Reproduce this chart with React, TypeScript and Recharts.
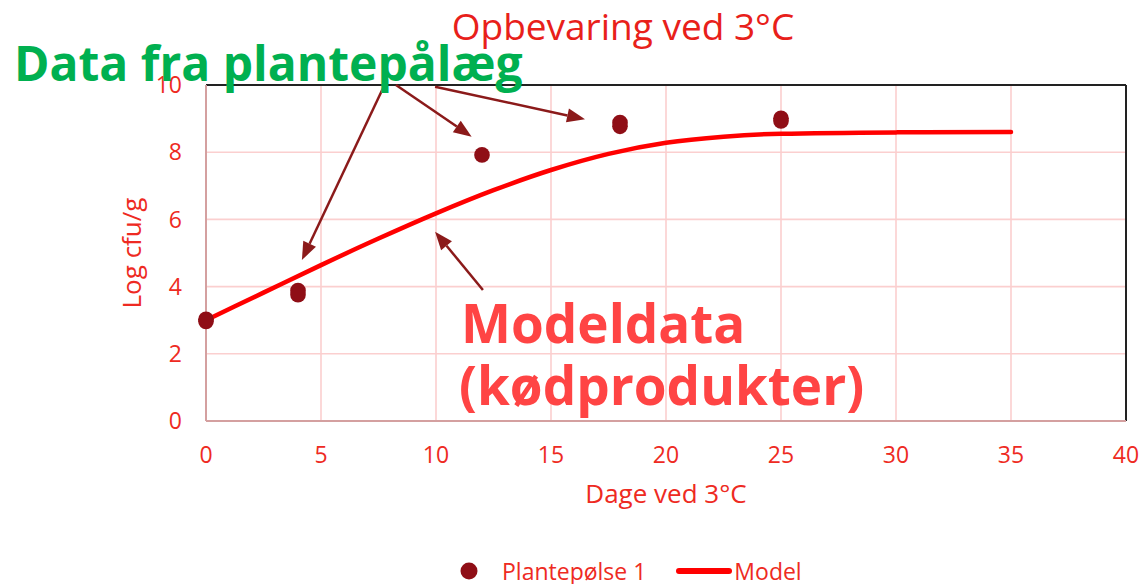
import React from 'react'
import {
  ComposedChart,
  Line,
  Scatter,
  CartesianGrid,
  XAxis,
  YAxis,
  ReferenceLine,
} from 'recharts'

// målte punkter (plantepølse 1)
const sampleDays = [0, 0, 4, 4, 12, 18, 18, 25, 25]
const sampleLog = [3.03, 2.96, 3.88, 3.76, 7.92, 8.88, 8.77, 9.01, 8.93]

// modelkurve (kødprodukter)
const modelDays = [0, 2.5, 5, 7.5, 10, 12.5, 15, 17.5, 20, 22.5, 25, 30, 35]
const modelLog = [3.0, 3.82, 4.64, 5.43, 6.18, 6.87, 7.47, 7.95, 8.28, 8.46, 8.55, 8.59, 8.6]

const xTicks = [0, 5, 10, 15, 20, 25, 30, 35, 40]
const yTicks = [0, 2, 4, 6, 8, 10]

// pile: [fra, til] i data-koordinater
const arrowFrom = [
  [7.7, 9.91],
  [8.26, 10.0],
  [9.96, 9.95],
  [12.04, 3.9],
]
const arrowTo = [
  [4.17, 4.79],
  [11.55, 8.46],
  [16.48, 8.98],
  [9.96, 5.63],
]

const seriesSample = 'Plantepølse 1'
const seriesModel = 'Model'

const W = 1140
const H = 584
const FONT = '"Open Sans", sans-serif'
const RED_TXT = '#ee2a22'
const DOT = '#8f0e16'
const ARROW = '#8b1a1a'

const samples = sampleDays.map((x, i) => ({ x, y: sampleLog[i] }))
const model = modelDays.map((x, i) => ({ x, y: modelLog[i] }))

function Arrow(props: any) {
  const { x1, y1, x2, y2 } = props
  const dx = x2 - x1
  const dy = y2 - y1
  const len = Math.hypot(dx, dy) || 1
  const ux = dx / len
  const uy = dy / len
  const hl = 18
  const hw = 7
  const bx = x2 - ux * hl
  const by = y2 - uy * hl
  return (
    <g>
      <line x1={x1} y1={y1} x2={bx} y2={by} stroke={ARROW} strokeWidth={2.5} />
      <polygon
        points={`${x2},${y2} ${bx - uy * hw},${by + ux * hw} ${bx + uy * hw},${by - ux * hw}`}
        fill={ARROW}
      />
    </g>
  )
}

const Dot = (p: any) => <circle cx={p.cx} cy={p.cy} r={7.8} fill={DOT} />

export default function App() {
  const tickStyle = { fill: RED_TXT, fontSize: 23, fontFamily: FONT }
  return (
    <div style={{ position: 'absolute', left: 0, top: 0, width: W, height: H, background: '#fff' }}>
      <ComposedChart
        width={W}
        height={H}
        margin={{ top: 85, right: 14, bottom: 0, left: 126 }}
      >
        <CartesianGrid stroke="#fbcfcf" strokeWidth={1.6} />
        <XAxis
          type="number"
          dataKey="x"
          domain={[0, 40]}
          ticks={xTicks}
          height={163}
          tickLine={false}
          tickSize={0}
          tickMargin={26}
          tick={tickStyle}
          stroke="#d4a0a0"
          strokeWidth={2}
          label={{
            value: 'Dage ved 3°C',
            position: 'insideTop',
            offset: 64,
            style: { fill: RED_TXT, fontSize: 26, fontFamily: FONT },
          }}
        />
        <YAxis
          type="number"
          dataKey="y"
          domain={[0, 10]}
          ticks={yTicks}
          width={80}
          tickLine={false}
          tickSize={0}
          tickMargin={24}
          tick={tickStyle}
          stroke="#d4a0a0"
          strokeWidth={2}
          label={{
            value: 'Log cfu/g',
            angle: -90,
            position: 'insideLeft',
            offset: 6,
            style: { fill: RED_TXT, fontSize: 26, fontFamily: FONT, textAnchor: 'middle' },
          }}
        />
        <ReferenceLine y={10} stroke="#222" strokeWidth={2} ifOverflow="visible" />
        <ReferenceLine x={40} stroke="#222" strokeWidth={2} ifOverflow="visible" />
        <Line
          data={model}
          dataKey="y"
          name={seriesModel}
          type="monotone"
          stroke="#ff0000"
          strokeWidth={4.5}
          strokeLinecap="round"
          dot={false}
          activeDot={false}
          isAnimationActive={false}
        />
        <Scatter
          data={samples}
          dataKey="y"
          name={seriesSample}
          shape={Dot}
          isAnimationActive={false}
        />
        {arrowFrom.map((f, i) => (
          <ReferenceLine
            key={i}
            segment={[
              { x: f[0], y: f[1] },
              { x: arrowTo[i][0], y: arrowTo[i][1] },
            ]}
            ifOverflow="visible"
            shape={Arrow}
          />
        ))}
      </ComposedChart>

      <svg
        width={W}
        height={H}
        style={{ position: 'absolute', left: 0, top: 0, pointerEvents: 'none' }}
      >
        <text x={623} y={40} textAnchor="middle" fontFamily={FONT} fontSize={37} fill="#e8201a">
          Opbevaring ved 3°C
        </text>
        <text x={14} y={81} fontFamily={FONT} fontWeight={700} fontSize={48} fill="#00b050">
          Data fra plantepålæg
        </text>
        <text x={461} y={343} fontFamily={FONT} fontWeight={700} fontSize={53} fill="#ff4444">
          Modeldata
        </text>
        <text x={459} y={405} fontFamily={FONT} fontWeight={700} fontSize={53} fill="#ff4444">
          (kødprodukter)
        </text>
      </svg>

      <div
        style={{
          position: 'absolute',
          left: 460,
          top: 558,
          height: 26,
          display: 'flex',
          alignItems: 'center',
          fontFamily: FONT,
          fontSize: 23,
          color: RED_TXT,
          lineHeight: '26px',
          whiteSpace: 'nowrap',
        }}
      >
        <svg width={18} height={18} style={{ marginRight: 24 }}>
          <circle cx={9} cy={9} r={8.5} fill={DOT} />
        </svg>
        <span>{seriesSample}</span>
        <svg width={56} height={8} style={{ marginLeft: 30, marginRight: 2 }}>
          <line x1={3} y1={4} x2={53} y2={4} stroke="#ff0000" strokeWidth={6} strokeLinecap="round" />
        </svg>
        <span>{seriesModel}</span>
      </div>
    </div>
  )
}
